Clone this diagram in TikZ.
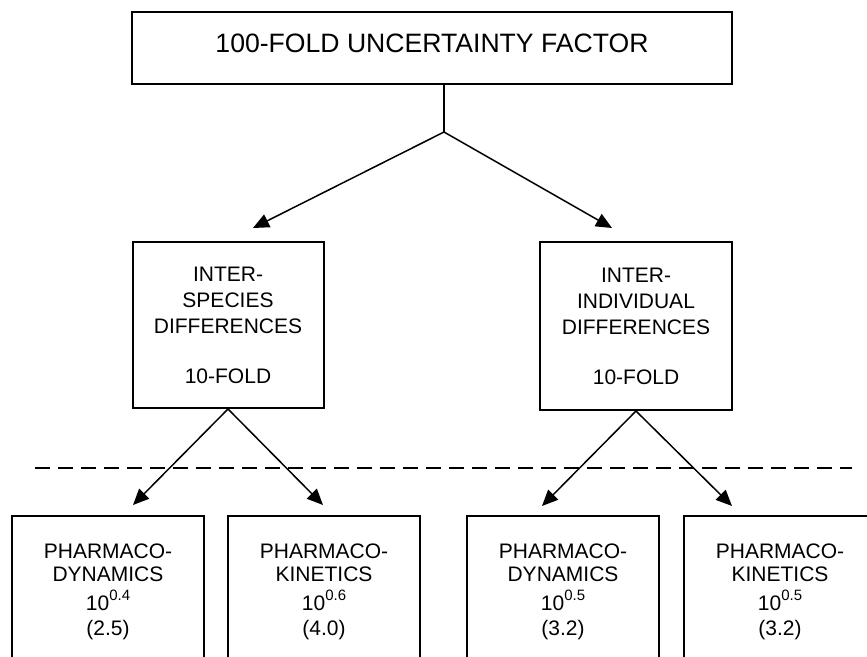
\documentclass[tikz,border=0pt]{standalone}
\usepackage{fontspec}
\setmainfont{Liberation Sans}
\usetikzlibrary{arrows.meta}

\begin{document}
\begin{tikzpicture}[x=1pt,y=-1pt,
  box/.style={draw,line width=2pt,align=center,inner sep=0pt},
  arr/.style={line width=1.5pt,-{Triangle[length=16pt,width=14pt]}}]
\useasboundingbox (0,0) rectangle (867,656);
\clip (0,0) rectangle (867,656);
\node[box,minimum width=600pt,minimum height=72pt,text depth=10pt,
  font=\fontsize{26.6}{32}\selectfont] (uf) at (432,48) {100-FOLD UNCERTAINTY FACTOR};
\node[box,minimum width=191pt,minimum height=166pt,font=\fontsize{21}{26}\selectfont]
  (spec) at (228,325) {INTER-\\SPECIES\\DIFFERENCES\\[24pt]10-FOLD};
\node[box,minimum width=192pt,minimum height=168pt,font=\fontsize{21}{26}\selectfont]
  (indiv) at (636,326) {INTER-\\INDIVIDUAL\\DIFFERENCES\\[24pt]10-FOLD};
\foreach \X/\N/\T/\E/\V in {108/pd1/DYNAMICS/0.4/2.5,324/pk1/KINETICS/0.6/4.0,
  563/pd2/DYNAMICS/0.5/3.2,780/pk2/KINETICS/0.5/3.2}
{\node[box,minimum width=192pt,minimum height=152pt,font=\fontsize{21}{23}\selectfont]
  (\N) at (\X,592) {PHARMACO-\\\T\\[6pt]10\raisebox{10pt}{\fontsize{15}{15}\selectfont\E}\\[2pt](\V)};}
\path (444,132) coordinate (fork) (253,228) coordinate (t-spec) (612,228) coordinate (t-indiv)
  (133,505) coordinate (t-pd1) (323,505) coordinate (t-pk1)
  (542,506) coordinate (t-pd2) (732,506) coordinate (t-pk2);
\draw[line width=1.5pt] (uf.south -| fork) -- (fork);
\draw[arr] (fork) -- (t-spec);
\draw[arr] (fork) -- (t-indiv);
\draw[arr] (spec.south) -- (t-pd1);
\draw[arr] (spec.south) -- (t-pk1);
\draw[arr] (indiv.south) -- (t-pd2);
\draw[arr] (indiv.south) -- (t-pk2);
\draw[line width=1.5pt,dash pattern=on 15pt off 8pt] (35,468) -- (852,468);
\end{tikzpicture}
\end{document}
